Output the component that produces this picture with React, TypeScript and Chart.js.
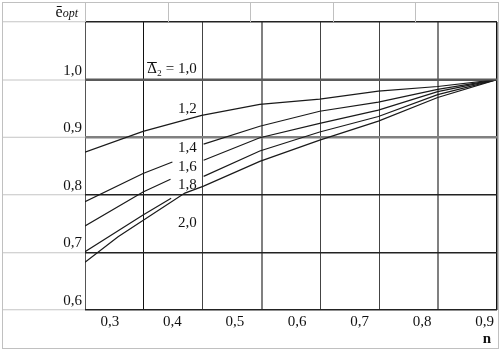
import React, { useEffect, useRef } from "react";
import { Chart, registerables } from "chart.js";

Chart.register(...registerables);

// ---- data ----
const xTickValues = [0.3, 0.4, 0.5, 0.6, 0.7, 0.8, 0.9];
const xTickLabels = ["0,3", "0,4", "0,5", "0,6", "0,7", "0,8", "0,9"];
const yTickValues = [0.6, 0.7, 0.8, 0.9, 1.0, 1.1];
const yTickLabels = ["0,6", "0,7", "0,8", "0,9", "1,0", ""];

const x10 = [0.26, 0.92];
const y10 = [1.0, 1.0];
const x12 = [0.26, 0.353, 0.447, 0.54, 0.636, 0.73, 0.825, 0.92];
const y12 = [0.874, 0.91, 0.938, 0.957, 0.966, 0.98, 0.988, 1.0];
const x14 = [0.26, 0.353, 0.4, 0.425, 0.45, 0.54, 0.636, 0.73, 0.825, 0.92];
const y14 = [0.788, 0.837, 0.857, null, 0.888, 0.919, 0.945, 0.961, 0.983, 1.0];
const x16 = [0.26, 0.353, 0.397, 0.425, 0.45, 0.54, 0.636, 0.73, 0.825, 0.92];
const y16 = [0.746, 0.805, 0.827, null, 0.86, 0.899, 0.924, 0.947, 0.979, 1.0];
const x18 = [0.26, 0.353, 0.398, 0.425, 0.45, 0.54, 0.636, 0.73, 0.825, 0.92];
const y18 = [0.701, 0.765, 0.794, null, 0.832, 0.876, 0.909, 0.936, 0.974, 1.0];
const x20 = [0.26, 0.313, 0.42, 0.45, 0.54, 0.636, 0.73, 0.825, 0.92];
const y20 = [0.683, 0.727, 0.803, 0.815, 0.858, 0.895, 0.928, 0.969, 1.0];

const curveNames = ["Δ₂ = 1,0", "1,2", "1,4", "1,6", "1,8", "2,0"];
const curveLabelX = [0.439, 0.439, 0.439, 0.439, 0.439, 0.439];
const curveLabelY = [1.018, 0.949, 0.881, 0.848, 0.817, 0.751];

const yAxisTitle = "ē";
const yAxisTitleSub = "opt";
const xAxisTitle = "n";

// ---- styles ----
const SERIF = "'Liberation Serif', 'DejaVu Serif', serif";
const xGridColors = ["#555", "#111", "#444", "#808080", "#444", "#444", "#808080", "#111"];
const xGridWidths = [1, 1, 1, 2, 1, 1, 2, 1.5];
const yGridColors = ["#222", "#222", "#222", "#808080", "#5a5a5a", "#222"];
const yGridWidths = [1.5, 1.5, 1.5, 2.5, 2, 1.5];

const toPts = (xs: number[], ys: (number | null)[]) => xs.map((x, i) => ({ x, y: ys[i] }));

const decor = {
  id: "decor",
  afterDraw(chart: any) {
    const { ctx, chartArea, scales } = chart;
    const { left, right, top } = chartArea;
    const xs = scales.x;
    const ys = scales.y;
    ctx.save();
    // outer table border
    ctx.strokeStyle = "#c0c0c0";
    ctx.lineWidth = 1;
    ctx.strokeRect(2.5, 2.5, chart.width - 4, chart.height - 5);
    // header cells
    for (let k = 0; k <= 5; k++) {
      const hx = Math.round(left + ((right + 1 - left) * k) / 5) + 0.5;
      ctx.beginPath();
      ctx.moveTo(hx, 2.5);
      ctx.lineTo(hx, top);
      ctx.stroke();
    }
    ctx.fillStyle = "#111";
    // header text ē opt
    ctx.textBaseline = "alphabetic";
    ctx.font = `italic 12px ${SERIF}`;
    const subW = ctx.measureText(yAxisTitleSub).width;
    const hxEnd = left - 7;
    ctx.textAlign = "right";
    ctx.fillText(yAxisTitleSub, hxEnd, 17);
    ctx.font = `16px ${SERIF}`;
    ctx.fillText(yAxisTitle, hxEnd - subW, 17);

    // curve labels
    ctx.font = `15px ${SERIF}`;
    ctx.textAlign = "right";
    ctx.textBaseline = "middle";
    curveNames.forEach((t, i) => {
      const px = xs.getPixelForValue(curveLabelX[i]);
      const py = ys.getPixelForValue(curveLabelY[i]);
      ctx.fillText(t, px, py);
      if (i === 0) {
        const w = ctx.measureText(t).width;
        const dw = ctx.measureText("Δ").width;
        const sx = px - w;
        ctx.strokeStyle = "#111";
        ctx.lineWidth = 1;
        ctx.beginPath();
        ctx.moveTo(sx, Math.round(py - 7) + 0.5);
        ctx.lineTo(sx + dw, Math.round(py - 7) + 0.5);
        ctx.stroke();
      }
    });

    // x axis title
    ctx.font = `bold 15px ${SERIF}`;
    ctx.textAlign = "center";
    ctx.textBaseline = "middle";
    ctx.fillText(xAxisTitle, right - 10, chart.height - 12);
    ctx.restore();
  },
};

export default function App() {
  const ref = useRef<HTMLCanvasElement | null>(null);
  useEffect(() => {
    document.body.style.margin = "0";
    const canvas = ref.current;
    if (!canvas) return;
    const lineStyle = { pointRadius: 0, borderColor: "#1a1a1a", borderWidth: 1.2, tension: 0, spanGaps: false, xAxisID: "x", yAxisID: "y" };
    const chart = new Chart(canvas, {
      type: "line",
      data: {
        datasets: [
          { ...lineStyle, label: curveNames[0], data: toPts(x10, y10), borderColor: "#5a5a5a", borderWidth: 2 },
          { ...lineStyle, label: curveNames[1], data: toPts(x12, y12) },
          { ...lineStyle, label: curveNames[2], data: toPts(x14, y14) },
          { ...lineStyle, label: curveNames[3], data: toPts(x16, y16) },
          { ...lineStyle, label: curveNames[4], data: toPts(x18, y18) },
          { ...lineStyle, label: curveNames[5], data: toPts(x20, y20) },
        ],
      },
      options: {
        animation: false,
        responsive: false,
        devicePixelRatio: 1,
        layout: { padding: { top: 22, right: 3, left: 0, bottom: 0 } },
        plugins: { legend: { display: false }, tooltip: { enabled: false } },
        scales: {
          x: {
            type: "linear",
            position: "bottom",
            min: 0.26,
            max: 0.92,
            afterBuildTicks: (axis: any) => {
              axis.ticks = xTickValues.map((v) => ({ value: v }));
            },
            ticks: {
              callback: (_v: any, i: number) => xTickLabels[i],
              font: { family: SERIF, size: 15 },
              color: "#111",
              padding: 3,
              maxRotation: 0,
              autoSkip: false,
            },
            grid: { display: false, drawTicks: false },
            border: { display: false },
            afterFit: (axis: any) => {
              axis.height = 41;
            },
          },
          xg: {
            type: "linear",
            position: "bottom",
            min: 0,
            max: 7,
            ticks: { display: false, stepSize: 1 },
            grid: {
              drawTicks: false,
              color: (c: any) => xGridColors[c.index] ?? "#444",
              lineWidth: (c: any) => xGridWidths[c.index] ?? 1,
            },
            border: { display: false },
            afterFit: (axis: any) => {
              axis.height = 0;
            },
          },
          y: {
            type: "linear",
            min: 0.6,
            max: 1.1,
            afterBuildTicks: (axis: any) => {
              axis.ticks = yTickValues.map((v) => ({ value: v }));
            },
            ticks: {
              callback: (_v: any, i: number) => yTickLabels[i],
              font: { family: SERIF, size: 15 },
              color: "#111",
              padding: -80,
              labelOffset: -9,
            },
            grid: {
              color: (c: any) => yGridColors[c.index] ?? "#222",
              lineWidth: (c: any) => yGridWidths[c.index] ?? 1,
              tickLength: 83,
              tickColor: "#c4c4c4",
              tickWidth: 1,
            },
            border: { display: false },
            afterFit: (axis: any) => {
              axis.width = 85;
            },
          },
        },
      },
      plugins: [decor],
    } as any);
    return () => chart.destroy();
  }, []);
  return (
    <div style={{ width: 500, height: 351, background: "#fff" }}>
      <canvas ref={ref} width={500} height={351} style={{ display: "block" }} />
    </div>
  );
}
